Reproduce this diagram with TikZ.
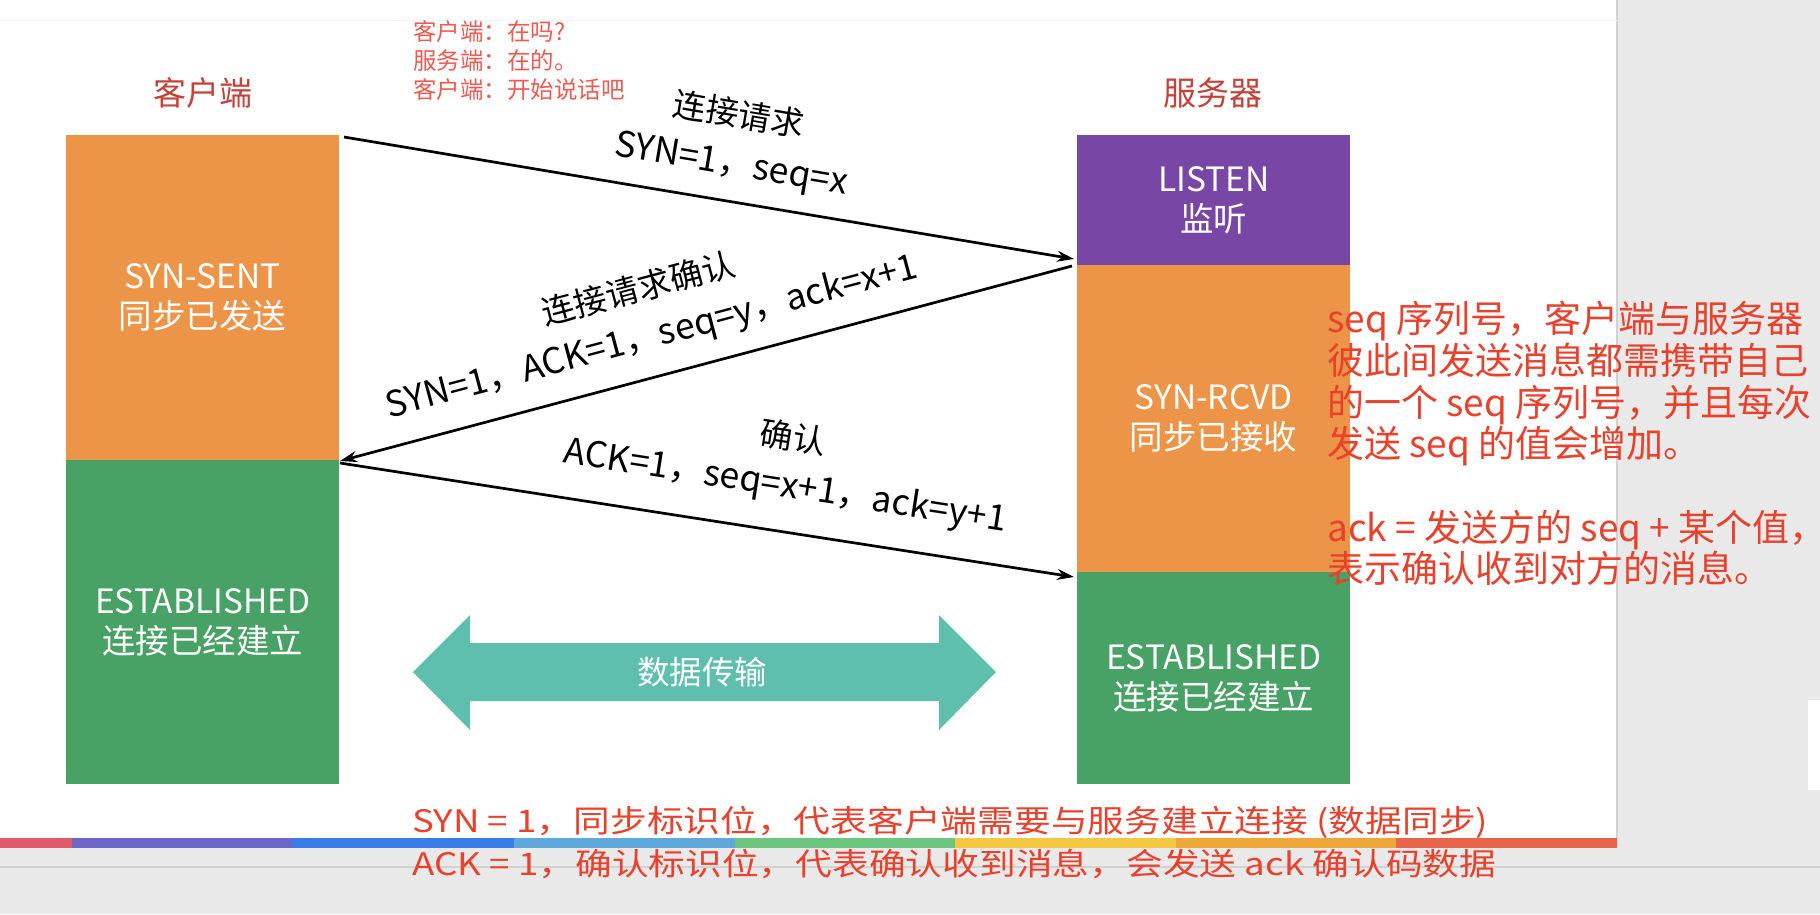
\documentclass[tikz,border=0pt]{standalone}
\usepackage{fontspec}
\setmainfont{Noto Sans CJK SC}
\newfontfamily\widefont[FakeStretch=1.185]{Noto Sans CJK SC}
\usetikzlibrary{arrows.meta}
\definecolor{boxorange}{HTML}{EC9549}
\definecolor{boxgreen}{HTML}{48A165}
\definecolor{boxpurple}{HTML}{7847A6}
\definecolor{teal2}{HTML}{5FBFAE}
\definecolor{headred}{HTML}{C4423A}
\definecolor{notered}{HTML}{E8412C}
\definecolor{topred}{HTML}{EE5B50}
\definecolor{bggray}{HTML}{E9E9E9}
\definecolor{linegray}{HTML}{D2D2D2}
\definecolor{rb1}{HTML}{E05A6A}
\definecolor{rb2}{HTML}{6A67C8}
\definecolor{rb3}{HTML}{3A7DE8}
\definecolor{rb4}{HTML}{5EA8DC}
\definecolor{rb5}{HTML}{6CC67F}
\definecolor{rb6}{HTML}{F5C842}
\definecolor{rb7}{HTML}{EEA83A}
\definecolor{rb8}{HTML}{E8654A}
\tikzset{
  statebox/.style={anchor=north west, inner sep=0pt, minimum width=273, text=white, align=center, font=\fontsize{33.5}{40}\selectfont},
  header/.style={text=headred, font=\fontsize{33}{40}\selectfont},
  msg/.style={-{Stealth[length=17,width=11]}, line width=2.7, black},
  msglabel/.style={inner sep=0pt, font=\fontsize{35.5}{40}\selectfont},
  msgcjk/.style={inner sep=0pt, font=\fontsize{33}{40}\selectfont},
  note/.style={text=notered, inner sep=0pt, anchor=north west, align=left, font=\fontsize{37}{41.7}\selectfont}
}
\begin{document}
\begin{tikzpicture}[x=1pt,y=-1pt]
\useasboundingbox (0,0) rectangle (1820,914);
\fill[white] (0,0) rectangle (1820,914);
\fill[bggray] (1617,0) rectangle (1820,914);
\fill[bggray] (0,847) rectangle (1820,914);
\draw[linegray, line width=1.5] (1617,0) -- (1617,847);
\draw[linegray, line width=2] (0,867) -- (1820,867);
\draw[black!4, line width=1] (0,20) -- (1617,20);
\fill[white] (1808,700) rectangle (1820,790);

% rainbow bar
\fill[rb1] (0,838) rectangle (72,848);
\fill[rb2] (72,838) rectangle (292,848);
\fill[rb3] (292,838) rectangle (514,848);
\fill[rb4] (514,838) rectangle (735,848);
\fill[rb5] (735,838) rectangle (955,848);
\fill[rb6] (955,838) rectangle (1176,848);
\fill[rb7] (1176,838) rectangle (1396,848);
\fill[rb8] (1396,838) rectangle (1617,848);

% headers
\node[header] (hc) at (203,93) {客户端};
\node[header] (hs) at (1213,93) {服务器};

% top notes
\node[text=topred, inner sep=0pt, anchor=west, align=left, font=\fontsize{23.5}{29}\selectfont] (talk) at (413,61) {客户端：在吗?\\服务端：在的。\\客户端：开始说话吧};

% client boxes
\node[statebox, fill=boxorange, minimum height=325] (csent) at (66,135) {SYN-SENT\\同步已发送};
\node[statebox, fill=boxgreen, minimum height=324] (cest) at (66,460) {ESTABLISHED\\连接已经建立};
% server boxes
\node[statebox, fill=boxpurple, minimum height=130] (slisten) at (1077,135) {LISTEN\\监听};
\node[statebox, fill=boxorange, minimum height=307] (srcvd) at (1077,265) {SYN-RCVD\\同步已接收};
\node[statebox, fill=boxgreen, minimum height=212] (sest) at (1077,572) {ESTABLISHED\\连接已经建立};

% connector end points
\coordinate (a1s) at (344,137);
\coordinate (a1e) at (1074,259);
\coordinate (a2s) at (1072,266);
\coordinate (a2e) at (340,461);
\coordinate (a3s) at (340,463);
\coordinate (a3e) at (1074,577);

\draw[msg] (a1s) -- (a1e);
\draw[msg] (a2s) -- (a2e);
\draw[msg] (a3s) -- (a3e);

\node[msgcjk, rotate=-9.6] (l1a) at (739,114) {连接请求};
\node[msglabel, rotate=-9.6] (l1b) at (731,166) {SYN=1，seq=x};
\node[msgcjk, rotate=14.9] (l2a) at (638,288) {连接请求确认};
\node[msglabel, rotate=14.9] (l2b) at (652,338) {SYN=1，ACK=1，seq=y，ack=x+1};
\node[msgcjk, rotate=-8.8] (l3a) at (793,437) {确认};
\node[msglabel, rotate=-8.8] (l3b) at (785,487) {ACK=1，seq=x+1，ack=y+1};

% data transfer double arrow
\fill[teal2] (413,672) -- (470,615) -- (470,643) -- (939,643) -- (939,615) -- (996,672) -- (939,730) -- (939,701) -- (470,701) -- (470,730) -- cycle;
\node[text=white, font=\fontsize{32.5}{36}\selectfont] (data) at (702,672) {数据传输};

% right notes
\node[note] (seqnote) at (1327,301) {seq 序列号，客户端与服务器\\彼此间发送消息都需携带自己\\的一个 seq 序列号，并且每次\\发送 seq 的值会增加。\\[41.7pt]ack = 发送方的 seq + 某个值，\\表示确认收到对方的消息。};

% bottom notes
\node[text=notered, inner sep=0pt, anchor=west, align=left, font=\widefont\fontsize{31}{43}\selectfont] (flags) at (412,842) {SYN = 1，同步标识位，代表客户端需要与服务建立连接 (数据同步)\\ACK = 1，确认标识位，代表确认收到消息，会发送 ack 确认码数据};
\end{tikzpicture}
\end{document}
